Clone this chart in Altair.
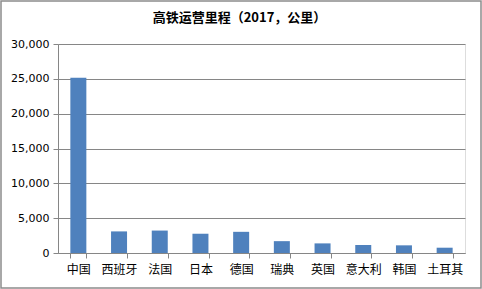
import altair as alt
import pandas as pd

countries = ["中国", "西班牙", "法国", "日本", "德国", "瑞典", "英国", "意大利", "韩国", "土耳其"]
km = [25164, 3100, 3220, 2765, 3040, 1700, 1380, 1150, 1100, 760]

df = pd.DataFrame({"country": countries, "km": km})
FONT = "Noto Sans CJK SC"

frame = alt.Chart(pd.DataFrame({"a": [0]})).mark_rect(
    fill=None, stroke="#8c8c8c", strokeWidth=1.5
).encode(x=alt.value(-57), x2=alt.value(423), y=alt.value(-43), y2=alt.value(244))

bars = alt.Chart(df).mark_bar(color="#4F81BD", size=16).encode(
    x=alt.X("country:N", sort=countries, title=None,
            axis=alt.Axis(labelAngle=0, tickBand="extent", labelFontSize=12,
                          labelFont=FONT, labelColor="#000", labelPadding=6,
                          domainColor="#868686", tickColor="#868686", tickSize=5, grid=False),
            scale=alt.Scale(paddingInner=0.6, paddingOuter=0.3)),
    y=alt.Y("km:Q", title=None,
            scale=alt.Scale(domain=[0, 30000], nice=False),
            axis=alt.Axis(values=[0, 5000, 10000, 15000, 20000, 25000, 30000], format=",.0f",
                          labelFontSize=11, labelFont="DejaVu Sans", labelColor="#000",
                          domainColor="#868686", tickColor="#868686", tickSize=5,
                          gridColor="#868686", labelPadding=4)),
)

chart = alt.layer(frame, bars).properties(
    width=407, height=209,
    title=alt.TitleParams("高铁运营里程（2017，公里）", fontSize=13, font=FONT,
                          fontWeight="bold", color="#000", anchor="middle",
                          offset=0, dy=25, dx=-22),
    autosize=alt.AutoSizeParams(type="none"),
    padding={"left": 58, "top": 44, "right": 17, "bottom": 36},
).configure_view(stroke=None).configure(background="white")

chart.save("out.html", embed_options={"renderer": "svg", "actions": False})
